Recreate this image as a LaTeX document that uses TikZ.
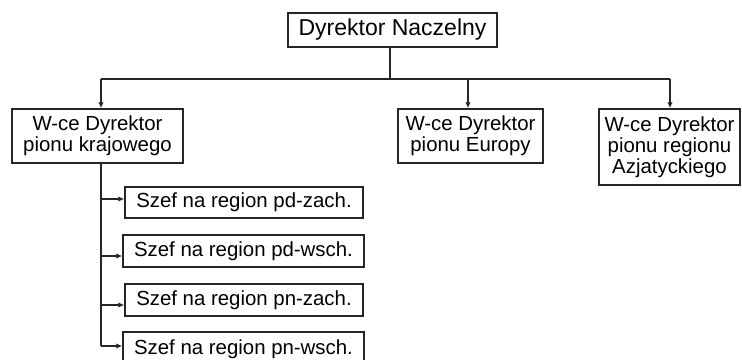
\documentclass[tikz,border=0pt]{standalone}
\usepackage{fontspec}
\setmainfont{Liberation Sans}
\usetikzlibrary{arrows.meta}
\tikzset{
  x=1pt, y=-1pt,
  box/.style={draw=black!85, line width=1.5pt, rectangle, inner sep=0pt, align=center,
    font=\fontsize{20.4}{21}\selectfont},
  link/.style={draw=black!85, line width=1.5pt},
  arr/.style={link, -{Latex[length=6pt,width=5.5pt]}},
}
\begin{document}
\begin{tikzpicture}
\useasboundingbox (0,0) rectangle (742,359);
\clip (0,0) rectangle (742,359);
% boxes
\node[box, minimum width=209pt, minimum height=34pt, font=\fontsize{23}{24}\selectfont] (top) at (392.5,30) {Dyrektor Naczelny};
\node[box, minimum width=171pt, minimum height=54pt] (left) at (97.5,136) {W-ce Dyrektor\\pionu krajowego};
\node[box, minimum width=145pt, minimum height=54pt] (mid) at (470.5,136) {W-ce Dyrektor\\pionu Europy};
\node[box, minimum width=141pt, minimum height=76pt] (right) at (669.5,147) {W-ce Dyrektor\\pionu regionu\\Azjatyckiego};
\node[box, minimum width=238pt, minimum height=31pt] (s1) at (244,202.5) {Szef na region pd-zach.};
\node[box, minimum width=241pt, minimum height=32pt] (s2) at (243.5,251) {Szef na region pd-wsch.};
\node[box, minimum width=238pt, minimum height=32pt] (s3) at (244,300) {Szef na region pn-zach.};
\node[box, minimum width=241pt, minimum height=34pt] (s4) at (243.5,349) {Szef na region pn-wsch.};
% top connectors
\coordinate (j) at (390,79);
\coordinate (jl) at (101,79);
\coordinate (jm) at (468,79);
\coordinate (jr) at (670,79);
\draw[link] (top.south -| j) -- (j);
\draw[link] (jl) -- (jr);
\draw[arr] (jl) -- (left.north -| jl);
\draw[arr] (jm) -- (mid.north -| jm);
\draw[arr] (jr) -- (right.north -| jr);
% left branch
\coordinate (b1) at (101,199);
\coordinate (b2) at (101,256);
\coordinate (b3) at (101,305);
\coordinate (b4) at (101,346);
\draw[link] (left.south -| b1) -- (b4);
\draw[arr] (b1) -- (b1 -| s1.west);
\draw[arr] (b2) -- (b2 -| s2.west);
\draw[arr] (b3) -- (b3 -| s3.west);
\draw[arr] (b4) -- (b4 -| s4.west);
\end{tikzpicture}
\end{document}
